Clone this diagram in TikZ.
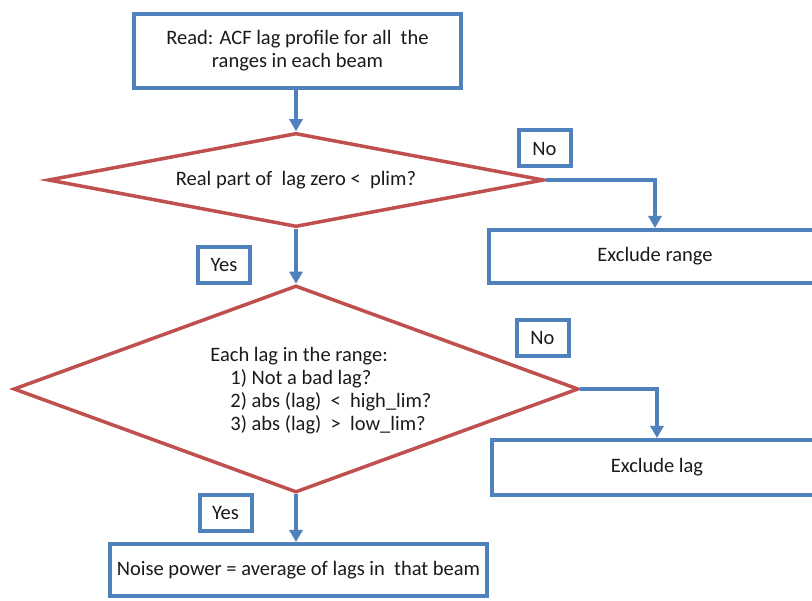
\documentclass[tikz,border=0pt]{standalone}
\usepackage{fontspec}
\setmainfont{Carlito}
\usepackage{tikz}
\usetikzlibrary{arrows.meta,positioning,shapes.geometric}
\definecolor{boxc}{HTML}{4F81BD}
\definecolor{decc}{HTML}{C0504D}
\definecolor{txtc}{HTML}{1A1A1A}
\tikzset{
  ar/.style={-{Triangle[length=12pt,width=13pt]},line width=4pt,boxc},
  box/.style={draw=boxc,line width=4pt,fill=white,align=center,inner sep=2pt},
  dec/.style={draw=decc,line width=3.5pt,shape=diamond,inner sep=0pt,align=center},
  tag/.style={draw=boxc,line width=4pt,minimum width=52pt,minimum height=36pt,inner sep=0pt}
}
\begin{document}
\begin{tikzpicture}[x=1pt,y=-1pt,font=\fontsize{20.5}{23}\selectfont,text=txtc]
\useasboundingbox (0,0) rectangle (812,601);
\node[box,minimum width=327pt,minimum height=74pt] (read) at (297.5,51) {Read: ACF lag profile for all\ \ the\\ranges in each beam};
\node[dec,aspect=5.28,minimum width=496pt,minimum height=94pt] (dec1) at (296,180) {Real part of\ \ lag zero <\ \ plim?};
\node[dec,aspect=2.73,minimum width=565pt,minimum height=207pt] (dec2) at (296,389) {};
\node[align=left] (crit) at ([xshift=25pt,yshift=-2pt]dec2.center) {Each lag in the range:\\\hspace*{20pt}1) Not a bad lag?\\\hspace*{20pt}2) abs (lag)\ \ <\ \ high\_lim?\\\hspace*{20pt}3) abs (lag)\ \ >\ \ low\_lim?};
\node[box,minimum width=332pt,minimum height=53pt] (exrange) at (655,256.5) {Exclude range};
\node[box,minimum width=330pt,minimum height=55pt] (exlag) at (657,467.5) {Exclude lag};
\node[box,minimum width=377pt,minimum height=52pt] (noise) at (298.5,570) {Noise power = average of lags in\ \ that beam};
\node[tag] (no1) at (544.5,148.5) {No};
\node[tag] (no2) at (542.5,338) {No};
\node[tag] (yes1) at (224,265) {Yes};
\node[tag] (yes2) at (225.5,513) {Yes};
\draw[ar] (read.south -| dec1.north) -- (dec1.north);
\draw[ar] (dec1.south) -- (dec2.north);
\draw[ar] (dec2.south) -- (dec2.south |- noise.north);
\draw[ar] (dec1.east) -| (exrange.north);
\draw[ar] (dec2.east) -| (exlag.north);
\end{tikzpicture}
\end{document}
